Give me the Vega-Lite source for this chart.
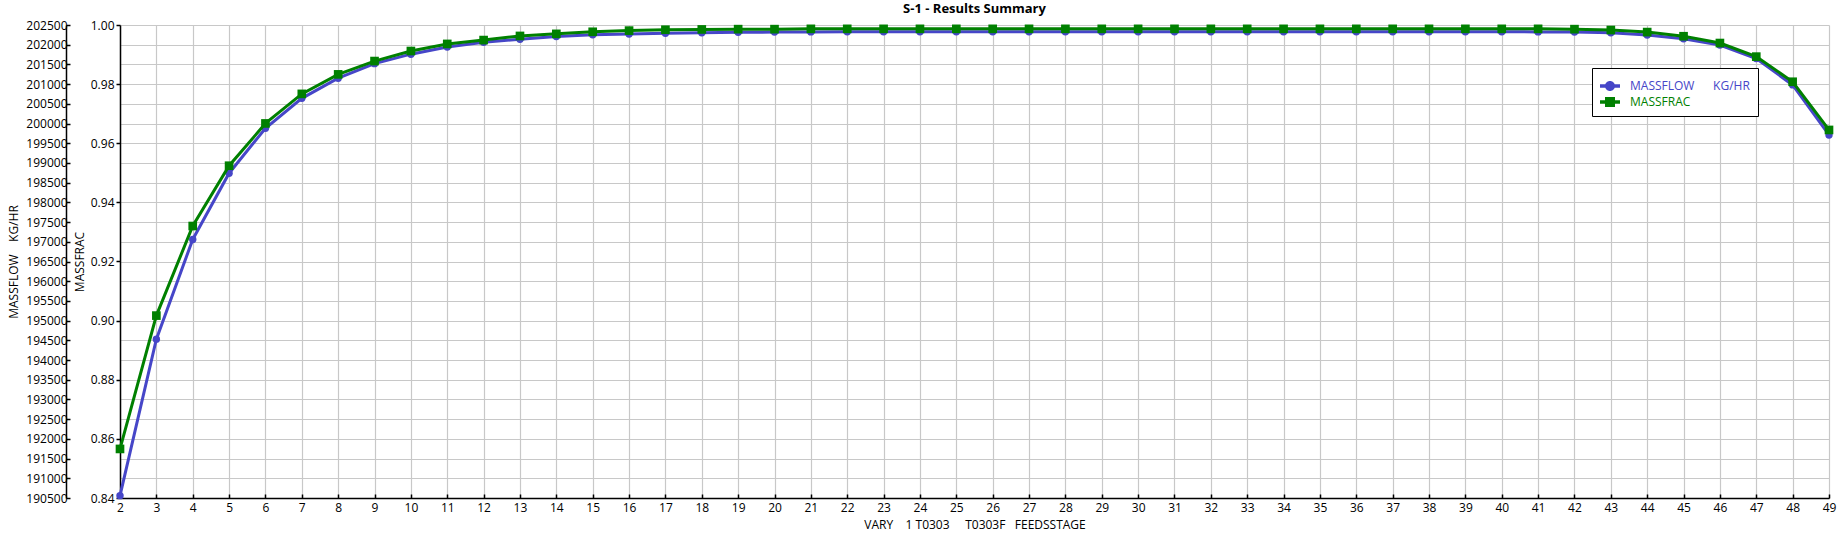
{
  "$schema": "https://vega.github.io/schema/vega-lite/v6.json",
  "width": 1709,
  "height": 473,
  "autosize": "none",
  "padding": {"left": 120, "top": 25, "right": 11, "bottom": 48},
  "background": "white",
  "title": {
    "text": "S-1 - Results Summary",
    "font": "Open Sans",
    "fontSize": 13,
    "fontWeight": "bold",
    "color": "black",
    "offset": 3
  },
  "data": {
    "values": [
      {"stage": 2, "massflow": 190560, "massfrac": 0.8566},
      {"stage": 3, "massflow": 194530, "massfrac": 0.9017},
      {"stage": 4, "massflow": 197060, "massfrac": 0.9320},
      {"stage": 5, "massflow": 198740, "massfrac": 0.9524},
      {"stage": 6, "massflow": 199880, "massfrac": 0.9667},
      {"stage": 7, "massflow": 200640, "massfrac": 0.9767},
      {"stage": 8, "massflow": 201150, "massfrac": 0.9833},
      {"stage": 9, "massflow": 201520, "massfrac": 0.9878},
      {"stage": 10, "massflow": 201760, "massfrac": 0.9912},
      {"stage": 11, "massflow": 201940, "massfrac": 0.9936},
      {"stage": 12, "massflow": 202060, "massfrac": 0.9949},
      {"stage": 13, "massflow": 202140, "massfrac": 0.9963},
      {"stage": 14, "massflow": 202210, "massfrac": 0.9970},
      {"stage": 15, "massflow": 202250, "massfrac": 0.9977},
      {"stage": 16, "massflow": 202270, "massfrac": 0.9981},
      {"stage": 17, "massflow": 202290, "massfrac": 0.9984},
      {"stage": 18, "massflow": 202305, "massfrac": 0.9985},
      {"stage": 19, "massflow": 202315, "massfrac": 0.9986},
      {"stage": 20, "massflow": 202320, "massfrac": 0.9986},
      {"stage": 21, "massflow": 202325, "massfrac": 0.9987},
      {"stage": 22, "massflow": 202330, "massfrac": 0.9987},
      {"stage": 23, "massflow": 202330, "massfrac": 0.9987},
      {"stage": 24, "massflow": 202330, "massfrac": 0.9987},
      {"stage": 25, "massflow": 202330, "massfrac": 0.9987},
      {"stage": 26, "massflow": 202330, "massfrac": 0.9987},
      {"stage": 27, "massflow": 202330, "massfrac": 0.9987},
      {"stage": 28, "massflow": 202330, "massfrac": 0.9987},
      {"stage": 29, "massflow": 202330, "massfrac": 0.9987},
      {"stage": 30, "massflow": 202330, "massfrac": 0.9987},
      {"stage": 31, "massflow": 202330, "massfrac": 0.9987},
      {"stage": 32, "massflow": 202330, "massfrac": 0.9987},
      {"stage": 33, "massflow": 202330, "massfrac": 0.9987},
      {"stage": 34, "massflow": 202330, "massfrac": 0.9987},
      {"stage": 35, "massflow": 202330, "massfrac": 0.9987},
      {"stage": 36, "massflow": 202330, "massfrac": 0.9987},
      {"stage": 37, "massflow": 202330, "massfrac": 0.9987},
      {"stage": 38, "massflow": 202330, "massfrac": 0.9987},
      {"stage": 39, "massflow": 202330, "massfrac": 0.9987},
      {"stage": 40, "massflow": 202330, "massfrac": 0.9987},
      {"stage": 41, "massflow": 202325, "massfrac": 0.9987},
      {"stage": 42, "massflow": 202320, "massfrac": 0.9986},
      {"stage": 43, "massflow": 202305, "massfrac": 0.9983},
      {"stage": 44, "massflow": 202245, "massfrac": 0.9976},
      {"stage": 45, "massflow": 202150, "massfrac": 0.9962},
      {"stage": 46, "massflow": 201990, "massfrac": 0.9939},
      {"stage": 47, "massflow": 201650, "massfrac": 0.9893},
      {"stage": 48, "massflow": 200980, "massfrac": 0.9808},
      {"stage": 49, "massflow": 199710, "massfrac": 0.9645}
    ]
  },
  "encoding": {
    "x": {
      "field": "stage",
      "type": "quantitative",
      "scale": {"domain": [2, 49], "nice": false, "zero": false},
      "axis": {
        "title": "VARY\u00a0\u00a0\u00a0\u00a01 T0303\u00a0\u00a0\u00a0\u00a0\u00a0T0303F\u00a0\u00a0\u00a0FEEDSSTAGE",
        "values": [2, 3, 4, 5, 6, 7, 8, 9, 10, 11, 12, 13, 14, 15, 16, 17, 18, 19, 20, 21, 22, 23, 24, 25, 26, 27, 28, 29, 30, 31, 32, 33, 34, 35, 36, 37, 38, 39, 40, 41, 42, 43, 44, 45, 46, 47, 48, 49],
        "tickSize": -4,
        "labelPadding": 8,
        "titlePadding": 6,
        "labelFlush": false
      }
    }
  },
  "layer": [
    {
      "encoding": {
        "y": {
          "field": "massflow",
          "type": "quantitative",
          "scale": {"domain": [190500, 202500], "nice": false, "zero": false},
          "axis": {
            "title": "MASSFLOW\u00a0\u00a0\u00a0\u00a0KG/HR",
            "orient": "left",
            "offset": 54,
            "format": "d",
            "values": [190500, 191000, 191500, 192000, 192500, 193000, 193500, 194000, 194500, 195000, 195500, 196000, 196500, 197000, 197500, 198000, 198500, 199000, 199500, 200000, 200500, 201000, 201500, 202000, 202500],
            "grid": true,
            "tickSize": -4,
            "labelPadding": 3,
            "titlePadding": 5
          }
        }
      },
      "layer": [
        {
          "mark": {"type": "line", "color": "#4646c8", "strokeWidth": 3}
        },
        {
          "mark": {"type": "circle", "opacity": 1, "size": 55},
          "encoding": {
            "color": {
              "datum": "MASSFLOW",
              "scale": {"domain": ["MASSFLOW", "MASSFRAC"], "range": ["#4646c8", "#008000"]},
              "legend": {
                "title": null,
                "orient": "none",
                "legendX": 1472,
                "legendY": 43,
                "strokeColor": "black",
                "fillColor": "white",
                "padding": 8,
                "rowPadding": 0,
                "symbolSize": 400,
                "symbolStrokeWidth": 0,
                "symbolType": {"expr": "datum.value == 'MASSFRAC' ? 'M-1,-0.18H1V0.18H-1Z M-0.5,-0.5H0.5V0.5H-0.5Z' : 'M-1,-0.18H1V0.18H-1Z M0.5,0A0.5,0.5,0,1,1,-0.5,0A0.5,0.5,0,1,1,0.5,0Z'"},
                "labelOffset": 10,
                "labelFont": "Open Sans",
                "labelFontSize": 12,
                "labelColor": {"expr": "datum.value == 'MASSFRAC' ? '#008000' : '#4646c8'"},
                "labelExpr": "datum.value == 'MASSFLOW' ? 'MASSFLOW\u00a0\u00a0\u00a0\u00a0\u00a0\u00a0KG/HR' : datum.label"
              }
            }
          }
        }
      ]
    },
    {
      "encoding": {
        "y": {
          "field": "massfrac",
          "type": "quantitative",
          "scale": {"domain": [0.84, 1.0], "nice": false, "zero": false},
          "axis": {
            "title": "MASSFRAC",
            "orient": "left",
            "offset": 0,
            "format": ".2f",
            "values": [0.84, 0.86, 0.88, 0.9, 0.92, 0.94, 0.96, 0.98, 1.0],
            "grid": false,
            "tickSize": 4,
            "labelPadding": 2,
            "titlePadding": 4
          }
        }
      },
      "layer": [
        {
          "mark": {"type": "line", "color": "#008000", "strokeWidth": 3}
        },
        {
          "mark": {"type": "square", "opacity": 1, "size": 75},
          "encoding": {
            "color": {"datum": "MASSFRAC"}
          }
        }
      ]
    }
  ],
  "resolve": {"scale": {"y": "independent"}},
  "config": {
    "font": "Open Sans",
    "view": {"stroke": null},
    "axis": {
      "labelFont": "Open Sans",
      "labelFontSize": 12,
      "labelColor": "black",
      "titleFont": "Open Sans",
      "titleFontSize": 12,
      "titleFontWeight": "normal",
      "titleColor": "black",
      "domainColor": "black",
      "domainWidth": 1.5,
      "tickColor": "black",
      "tickWidth": 1.5,
      "gridColor": "#c8c8c8",
      "gridWidth": 1.2,
      "gridOpacity": 1
    }
  }
}
